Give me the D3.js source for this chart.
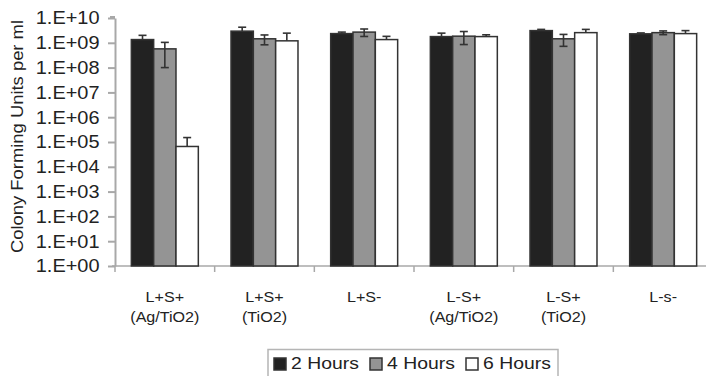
<!DOCTYPE html>
<html><head><meta charset="utf-8">
<script src="https://cdn.jsdelivr.net/npm/d3@7"></script>
<style>html,body{margin:0;padding:0;background:#fff;overflow:hidden}</style>
</head><body>
<svg id="chart" width="706" height="376"></svg>
<script>
const categories = [["L+S+","(Ag/TiO2)"],["L+S+","(TiO2)"],["L+S-"],["L-S+","(Ag/TiO2)"],["L-S+","(TiO2)"],["L-s-"]];
const seriesNames = ["2 Hours","4 Hours","6 Hours"];
const hours2 = [1.35e9, 2.95e9, 2.35e9, 1.78e9, 3.1e9, 2.3e9];
const hours4 = [5.7e8, 1.45e9, 2.7e9, 1.85e9, 1.45e9, 2.57e9];
const hours6 = [6.6e4, 1.2e9, 1.35e9, 1.78e9, 2.57e9, 2.35e9];
const err2 = [6.5e8, 1.3e9, 3.5e8, 6.7e8, 3.7e8, 2e8];
const err4 = [4.7e8, 6.2e8, 9e8, 1.0e9, 7.3e8, 4.4e8];
const err6 = [8.5e4, 1.25e9, 4.7e8, 3.2e8, 9e8, 7.5e8];
const yTicks = [1e0,1e1,1e2,1e3,1e4,1e5,1e6,1e7,1e8,1e9,1e10];
const yTickLabels = ["1.E+00","1.E+01","1.E+02","1.E+03","1.E+04","1.E+05","1.E+06","1.E+07","1.E+08","1.E+09","1.E+10"];
const yTitle = "Colony Forming Units per ml";

const fills = ["#222222","#949494","#ffffff"];
const values = [hours2, hours4, hours6];
const errs = [err2, err4, err6];
const lowerErr = [false, true, false];

const svg = d3.select("#chart");
const font = "'Liberation Sans', Arial, Helvetica, sans-serif";
const catIdx = categories.map((c,i)=>i);

const x0 = d3.scaleBand().domain(catIdx).range([115, 713]).paddingInner(0.328).paddingOuter(0.164);
const x1 = d3.scaleBand().domain([0,1,2]).range([0, x0.bandwidth()]);
const y = d3.scaleLog().domain([1, 1e10]).range([266, 18]);
const step = x0.step();

function stretchText(g, x, y, txt, fs, sx, anchor, rot) {
  const t = g.append("g").attr("transform", `translate(${x},${y}) rotate(${rot||0}) scale(${sx},1)`)
    .append("text").attr("x",0).attr("y",0).attr("text-anchor", anchor)
    .attr("font-family", font).attr("font-size", fs).attr("fill","#222").text(txt);
  return t;
}

// Y axis
const yAxis = svg.append("g").attr("transform","translate(115,0)")
  .call(d3.axisLeft(y).tickValues(yTicks).tickFormat("").tickSize(7).tickSizeOuter(0));
yAxis.select(".domain").attr("stroke","#a8a8a8").attr("stroke-width",2);
yAxis.selectAll(".tick line").attr("stroke","#a8a8a8").attr("stroke-width",2);
svg.append("line").attr("x1",110).attr("x2",115).attr("y1",y(1e10)-1).attr("y2",y(1e10)-1).attr("stroke","#a8a8a8").attr("stroke-width",2);

const lbl = svg.append("g");
yTicks.forEach((v,i)=>{
  stretchText(lbl, 99.5, y(v)+6.3, yTickLabels[i], 17.5, 1.14, "end");
});

// X axis
svg.append("line").attr("x1",112).attr("x2",713).attr("y1",y(1)).attr("y2",y(1)).attr("stroke","#a8a8a8").attr("stroke-width",1.5);
d3.range(0,7).forEach(i=>{
  const xx = x0(0) - x0.step()*x0.paddingInner()/2 + i*step;
  svg.append("line").attr("x1",xx).attr("x2",xx).attr("y1",y(1)).attr("y2",y(1)+6).attr("stroke","#a8a8a8").attr("stroke-width",1.5);
});

// Bars
const bars = svg.append("g");
catIdx.forEach(ci=>{
  const gx = x0(ci);
  [0,1,2].forEach(si=>{
    const v = values[si][ci];
    const bx = gx + x1(si);
    bars.append("rect").attr("x", bx).attr("y", y(v)).attr("width", x1.bandwidth()).attr("height", y(1)-y(v))
      .attr("fill", fills[si]).attr("stroke","#333").attr("stroke-width",1.5);
  });
});
// Error bars
const eb = svg.append("g").attr("stroke","#333").attr("stroke-width",1.6);
catIdx.forEach(ci=>{
  [0,1,2].forEach(si=>{
    const v = values[si][ci], e = errs[si][ci];
    const cx = x0(ci) + x1(si) + x1.bandwidth()/2;
    const top = y(v+e);
    eb.append("line").attr("x1",cx).attr("x2",cx).attr("y1",top).attr("y2",y(v));
    eb.append("line").attr("x1",cx-4).attr("x2",cx+4).attr("y1",top).attr("y2",top);
    if (lowerErr[si] && v-e > 1) {
      const bot = y(v-e);
      eb.append("line").attr("x1",cx).attr("x2",cx).attr("y1",y(v)).attr("y2",bot);
      eb.append("line").attr("x1",cx-4).attr("x2",cx+4).attr("y1",bot).attr("y2",bot);
    }
  });
});

// Category labels
categories.forEach((c,ci)=>{
  const cx = x0(ci) + x0.bandwidth()/2;
  c.forEach((line,li)=>{
    stretchText(lbl, cx, 302 + li*20, line, 14, 1.15, "middle");
  });
});

// Y title
stretchText(lbl, 23, 136.5, yTitle, 16, 1.15, "middle", -90);

// Legend
const leg = svg.append("g");
leg.append("rect").attr("x",268).attr("y",349.5).attr("width",290).attr("height",30)
  .attr("fill","#fff").attr("stroke","#b5b5b5").attr("stroke-width",1.5);
const legX = [273, 369, 465];
seriesNames.forEach((s,i)=>{
  leg.append("rect").attr("x",legX[i]+1).attr("y",358).attr("width",12).attr("height",12)
    .attr("fill",fills[i]).attr("stroke","#333").attr("stroke-width",1.5);
  stretchText(leg, legX[i]+18, 369, s, 17, 1.14, "start");
});
</script>
</body></html>
